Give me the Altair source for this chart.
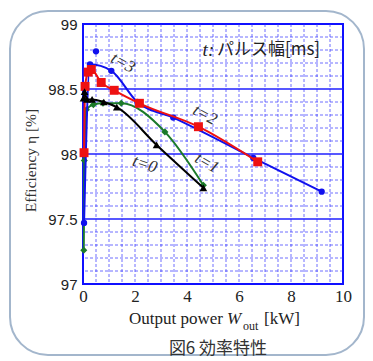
import altair as alt
import pandas as pd

# ---- data ----
t3_x = [0.04, 0.27, 1.09, 2.09, 3.47, 6.55, 9.18]
t3_y = [97.47, 98.69, 98.64, 98.40, 98.28, 97.97, 97.71]
t3_extra_x = [0.5]
t3_extra_y = [98.79]

t2_x = [0.04, 0.08, 0.2, 0.32, 0.7, 1.2, 2.17, 4.44, 6.72]
t2_y = [98.01, 98.52, 98.63, 98.65, 98.55, 98.49, 98.39, 98.21, 97.94]

t0_x = [0.02, 0.06, 0.15, 0.35, 0.8, 1.3, 2.83, 4.63]
t0_y = [98.43, 98.48, 98.42, 98.42, 98.40, 98.36, 98.07, 97.74]

t1_x = [0.03, 0.05, 0.13, 0.4, 0.77, 1.47, 3.15, 4.63]
t1_y = [97.26, 97.95, 98.34, 98.38, 98.39, 98.39, 98.17, 97.76]

x_ticks = [0, 2, 4, 6, 8, 10]
y_ticks = [97, 97.5, 98, 98.5, 99]
x_grid = [0.5, 1, 1.5, 2, 2.5, 3, 3.5, 4, 4.5, 5, 5.5, 6, 6.5, 7, 7.5, 8, 8.5, 9, 9.5]
y_grid_minor = [97.1, 97.2, 97.3, 97.4, 97.6, 97.7, 97.8, 97.9, 98.1, 98.2, 98.3, 98.4, 98.6, 98.7, 98.8, 98.9]
y_grid_major = [97.5, 98, 98.5]

labels_text = ["t=3", "t=2", "t=0", "t=1"]
labels_x = [1.54, 4.69, 2.38, 4.77]
labels_y = [98.70, 98.30, 97.92, 97.93]
labels_angle = [28, 28, 18, 30]

# ---- scales / axes ----
xscale = alt.Scale(domain=[0, 10], nice=False, zero=False)
yscale = alt.Scale(domain=[97, 99], nice=False, zero=False)
xaxis = alt.Axis(values=x_ticks, grid=False, ticks=False, domain=False,
                 labelFont="Liberation Serif", labelFontSize=17, labelColor="#222222",
                 labelPadding=4, labelFlush=False, labelOverlap=False, title=None)
yaxis = alt.Axis(values=y_ticks, labelExpr="datum.value", grid=False, ticks=False, domain=False,
                 labelFont="Liberation Sans", labelFontSize=15, labelColor="#222222",
                 labelPadding=6, labelFlush=False, labelOverlap=False,
                 title="Efficiency η [%]", titleFont="Liberation Serif", titleFontSize=15.5,
                 titleFontWeight="normal", titleColor="#333333",
                 titleX=-53, titleY=136, titleAngle=270, titleBaseline="middle", titleAlign="center")

X = lambda f: alt.X(f, type="quantitative", scale=xscale, axis=xaxis)
Y = lambda f: alt.Y(f, type="quantitative", scale=yscale, axis=yaxis)

GRID = "#3030ff"

box = alt.Chart(pd.DataFrame({"a": [0]})).mark_rect(
    fillOpacity=0, stroke="#a3b6cc", strokeWidth=2, cornerRadius=38
).encode(x=alt.value(-73), x2=alt.value(281), y=alt.value(-13), y2=alt.value(331))

xg = alt.Chart(pd.DataFrame({"gx": x_grid})).mark_rule(
    color=GRID, strokeWidth=1, strokeDash=[3, 2], opacity=0.7
).encode(x=X("gx"))
yg = alt.Chart(pd.DataFrame({"gy": y_grid_minor})).mark_rule(
    color=GRID, strokeWidth=1, strokeDash=[3, 2], opacity=0.7
).encode(y=Y("gy"))
ygM = alt.Chart(pd.DataFrame({"gm": y_grid_major})).mark_rule(
    color="#2020ff", strokeWidth=1.5
).encode(y=Y("gm"))


def series(xs, ys, color, shape, size):
    df = pd.DataFrame({"x": xs, "y": ys})
    base = alt.Chart(df).encode(x=X("x"), y=Y("y"))
    line = base.mark_line(color=color, strokeWidth=2, interpolate="monotone")
    pts = base.mark_point(shape=shape, filled=True, size=size, color=color, opacity=1)
    return line + pts


s1 = series(t1_x, t1_y, "#1b7a2a", "diamond", 50)
s3 = series(t3_x, t3_y, "#1010ee", "circle", 40)
s3b = alt.Chart(pd.DataFrame({"x": t3_extra_x, "y": t3_extra_y})).mark_point(
    shape="circle", filled=True, size=40, color="#1010ee", opacity=1).encode(x=X("x"), y=Y("y"))
s2 = series(t2_x, t2_y, "#ee1111", "square", 80)
s0 = series(t0_x, t0_y, "#000000", "triangle-up", 60)

lab_layers = []
for t, lx, ly, la in zip(labels_text, labels_x, labels_y, labels_angle):
    lab_layers.append(
        alt.Chart(pd.DataFrame({"x": [lx], "y": [ly], "t": [t]})).mark_text(
            font="Liberation Serif", fontStyle="italic", fontSize=17, angle=la,
            color="#333333", align="center", baseline="middle"
        ).encode(x=X("x"), y=Y("y"), text="t:N"))

legend_t = alt.Chart(pd.DataFrame({"x": [4.6], "y": [98.8], "t": ["t:"]})).mark_text(
    font="Liberation Serif", fontStyle="italic", fontSize=19, color="#222222",
    align="left", baseline="middle").encode(x=X("x"), y=Y("y"), text="t:N")
legend_j = alt.Chart(pd.DataFrame({"x": [5.15], "y": [98.8], "t": ["パルス幅[ms]"]})).mark_text(
    font="Noto Sans CJK JP", fontSize=17, color="#222222",
    align="left", baseline="middle").encode(x=X("x"), y=Y("y"), text="t:N")

one = pd.DataFrame({"a": [0]})
def txt(s, x, y, **kw):
    return alt.Chart(one).mark_text(text=s, align="left", baseline="alphabetic",
                                    color="#222222", **kw).encode(x=alt.value(x), y=alt.value(y))

xt1 = txt("Output power", 46, 300, font="Liberation Serif", fontSize=17)
xt2 = txt("W", 144, 300, font="Liberation Serif", fontSize=17, fontStyle="italic")
xt3 = txt("out", 160, 306, font="Liberation Serif", fontSize=12)
xt4 = txt("[kW]", 181, 300, font="Liberation Serif", fontSize=17)
cap = alt.Chart(one).mark_text(text="図6 効率特性", align="center", baseline="middle",
                               font="Noto Sans CJK JP", fontSize=17, color="#333333"
                               ).encode(x=alt.value(135), y=alt.value(325))

chart = alt.layer(
    box, xg, yg, ygM, s1, s3, s3b, s2, s0, *lab_layers, legend_t, legend_j,
    xt1, xt2, xt3, xt4, cap
).properties(
    width=260, height=260,
    autosize=alt.AutoSizeParams(type="none"),
    padding={"left": 75, "top": 16, "right": 22, "bottom": 75},
    background="white",
).configure_view(stroke="#1010ff", strokeWidth=2)

chart.save("out.html", embed_options={"renderer": "svg", "actions": False})
